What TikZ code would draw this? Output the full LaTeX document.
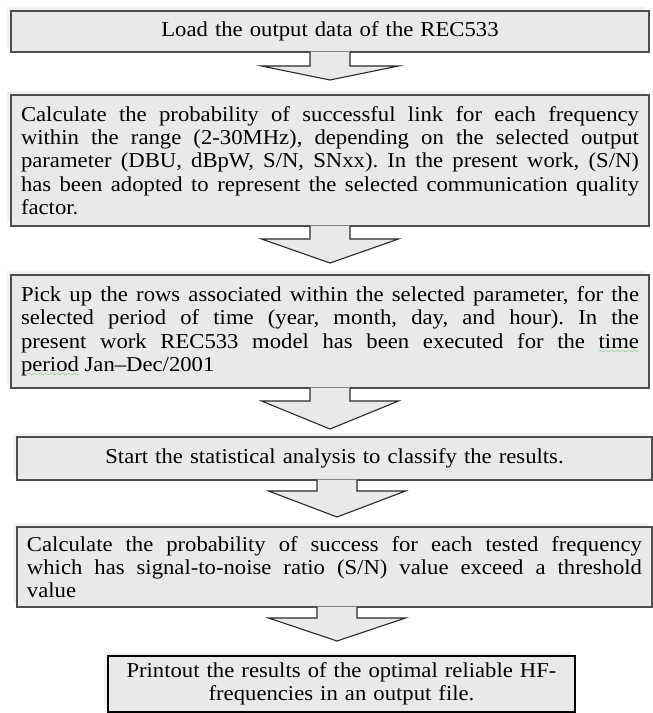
\documentclass[tikz,border=0pt]{standalone}
\usepackage{fontspec}
\setmainfont{Liberation Serif}[FakeStretch=1.07]
\usetikzlibrary{calc,shadows}
\definecolor{boxfill}{HTML}{E9E9E9}
\definecolor{boxline}{HTML}{4E4E4E}
\definecolor{shadowc}{HTML}{F2F2F2}
\definecolor{arrowline}{HTML}{2A2A2A}
\definecolor{wavegreen}{HTML}{3C9A3C}
\font\wavefont=lasy10 at 8pt
\newcommand\gw[1]{\leavevmode\setbox0\hbox{#1}\rlap{\textcolor{wavegreen}{\lower5pt\hbox to\wd0{\xleaders\hbox{\wavefont\char58}\hfil}}}\box0\relax}
\newcommand\boxfont{\fontsize{21.2}{23.3}\selectfont\frenchspacing}
\newcommand\fatarrow[5]{%
  \coordinate (#5) at ($(#1.south)+(#2,#3+#4)$);
  \fill[boxfill] ($(#1.south)+(#2-20,-1.3)$) -- ($(#1.south)+(#2-20,#3)$) -- ($(#1.south)+(#2-68.5,#3)$) -- (#5)
     -- ($(#1.south)+(#2+68.5,#3)$) -- ($(#1.south)+(#2+20,#3)$) -- ($(#1.south)+(#2+20,-1.3)$) -- cycle;
  \draw[arrowline, line width=1.1pt, line join=miter]
     ($(#1.south)+(#2-20,-1)$) -- ($(#1.south)+(#2-20,#3)$) -- ($(#1.south)+(#2-68.5,#3)$) -- (#5)
     -- ($(#1.south)+(#2+68.5,#3)$) -- ($(#1.south)+(#2+20,#3)$) -- ($(#1.south)+(#2+20,-1)$);
}
\begin{document}
\hyphenpenalty=10000\relax
\tolerance=9999\relax
\frenchspacing
\begin{tikzpicture}[x=1pt,y=-1pt,
  box/.style={rectangle, draw=boxline, line width=2pt, fill=boxfill, inner sep=0pt,
    general shadow={fill=shadowc, shadow xshift=-4pt, shadow yshift=4pt},
    font=\boxfont},
  lastbox/.style={box, draw=black, line width=1.3pt}]
\useasboundingbox (0,0) rectangle (653,713);
\node[box, minimum width=638pt, minimum height=41pt, text width=618pt, align=center] (b1) at (330,31.5)
  {Load the output data of the REC533};
\node[box, minimum width=638pt, minimum height=131pt, text width=618pt, align=justify] (b2) at (330,160.5)
  {Calculate the probability of successful link for each frequency\linebreak
   within the range (2-30MHz), depending on the selected output\linebreak
   parameter (DBU, dBpW, S/N, SNxx). In the present work, (S/N)\linebreak
   has been adopted to represent the selected communication quality\linebreak
   factor.};
\node[box, minimum width=638pt, minimum height=113pt, text width=618pt, align=justify] (b3) at (330,331.5)
  {Pick up the rows associated within the selected parameter, for the\linebreak
   selected period of time (year, month, day, and hour). In the\linebreak
   present work REC533 model has been executed for the \gw{time}\linebreak
   \gw{period} Jan–Dec/2001};
\node[box, minimum width=635pt, minimum height=43pt, text width=615pt, align=center] (b4) at (334.5,458.5)
  {Start the statistical analysis to classify the results.};
\node[box, minimum width=635pt, minimum height=80pt, text width=615pt, align=justify] (b5) at (334.5,567)
  {Calculate the probability of success for each tested frequency\linebreak
   which has signal-to-noise ratio (S/N) value exceed a threshold\linebreak
   value};
\node[lastbox, minimum width=467pt, minimum height=56pt, text width=455pt, align=center] (b6) at (341.5,684)
  {Printout the results of the optimal reliable HF-\\frequencies in an output file.};
\fatarrow{b1}{0}{13}{14}{t1}
\fatarrow{b2}{0}{12}{24}{t2}
\fatarrow{b3}{0}{12}{28}{t3}
\fatarrow{b4}{2.5}{10}{26}{t4}
\fatarrow{b5}{2.5}{10}{23}{t5}
\end{tikzpicture}
\end{document}
